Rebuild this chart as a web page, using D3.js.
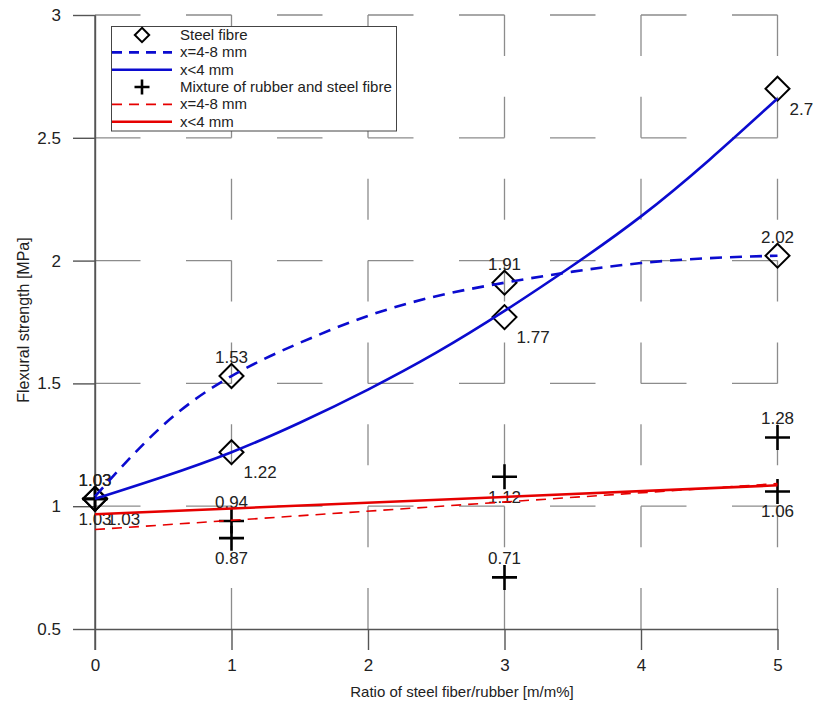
<!DOCTYPE html>
<html>
<head>
<meta charset="utf-8">
<script src="https://cdn.jsdelivr.net/npm/d3@7"></script>
<style>
  body { margin: 0; background: #fff; }
  text { font-family: "Liberation Sans", Arial, sans-serif; fill: #222; }
</style>
</head>
<body>
<div id="viz"></div>
<script>
// measured values
const ratio = [0, 1, 3, 5];
const steelCoarse = [1.03, 1.53, 1.91, 2.02];   // x=4-8 mm
const steelFine = [1.03, 1.22, 1.77, 2.7];       // x<4 mm
const mixCoarse = [1.03, 0.94, 0.71, 1.28];
const mixFine = [1.03, 0.87, 1.12, 1.06];

// trend curves
const fitX = [0, 0.5, 1, 1.5, 2, 2.5, 3, 3.5, 4, 4.5, 5];
const fitSteelCoarse = [1.04, 1.33, 1.53, 1.665, 1.775, 1.855, 1.91, 1.955, 1.99, 2.01, 2.02];
const fitSteelFine = [1.03, 1.12, 1.22, 1.34, 1.475, 1.625, 1.795, 1.98, 2.18, 2.41, 2.66];
const fitLineX = [0, 5];
const fitMixCoarse = [0.905, 1.092];
const fitMixFine = [0.967, 1.085];

const xTicks = [0, 1, 2, 3, 4, 5];
const yTicks = [0.5, 1, 1.5, 2, 2.5, 3];

const width = 817;
const height = 706;
const blue = "#0b0bcf";
const red = "#e60000";

const svg = d3.select("#viz")
  .append("svg")
  .attr("width", width)
  .attr("height", height);

const x = d3.scaleLinear().domain([0, 5]).range([95, 777.5]);
const y = d3.scaleLinear().domain([0.5, 3]).range([629, 15]);

// grid (dashed, pattern anchored at x=0 and at the top)
const hDash = (x(1) - x(0)) / 3;
const vDash = (y(0.5) - y(1)) / 3;
svg.append("g")
  .selectAll("line")
  .data(yTicks.slice(1))
  .enter()
  .append("line")
  .attr("x1", x(0)).attr("x2", x(5))
  .attr("y1", d => y(d)).attr("y2", d => y(d))
  .attr("stroke", "#8c8c8c")
  .attr("stroke-width", 1.3)
  .attr("stroke-dasharray", hDash + "," + hDash);
svg.append("g")
  .selectAll("line")
  .data(xTicks.slice(1))
  .enter()
  .append("line")
  .attr("x1", d => x(d)).attr("x2", d => x(d))
  .attr("y1", y(3)).attr("y2", y(0.5))
  .attr("stroke", "#8c8c8c")
  .attr("stroke-width", 1.3)
  .attr("stroke-dasharray", vDash + "," + vDash);

// axes
const yAxis = svg.append("g").attr("transform", `translate(${x(0)},0)`);
yAxis.call(d3.axisLeft(y).tickValues(d3.range(0.5, 3.01, 0.25)).tickSize(11).tickFormat("").tickSizeOuter(0));
yAxis.call(d3.axisLeft(y).tickValues(yTicks).tickSize(22).tickPadding(12).tickFormat(d3.format("")).tickSizeOuter(0));
const xAxis = svg.append("g").attr("transform", `translate(0,${y(0.5)})`);
xAxis.call(d3.axisBottom(x).tickValues(d3.range(0, 5.01, 0.5)).tickSize(11).tickFormat("").tickSizeOuter(0));
xAxis.call(d3.axisBottom(x).tickValues(xTicks).tickSize(21).tickPadding(9).tickFormat(d3.format("d")).tickSizeOuter(0));
svg.selectAll(".domain").attr("stroke", "#555").attr("stroke-width", 1.4);
svg.selectAll(".tick line").attr("stroke", "#555").attr("stroke-width", 1.4);
svg.selectAll(".tick text")
  .style("font-family", "'Liberation Sans', Arial, sans-serif")
  .style("font-size", "17px")
  .attr("fill", "#222");
// y axis line continues down to the x=0 tick
svg.append("line")
  .attr("x1", x(0)).attr("x2", x(0))
  .attr("y1", y(3)).attr("y2", y(0.5) + 21)
  .attr("stroke", "#555").attr("stroke-width", 1.4);

svg.append("text")
  .attr("x", 462).attr("y", 697)
  .attr("text-anchor", "middle")
  .style("font-size", "15px")
  .text("Ratio of steel fiber/rubber [m/m%]");
svg.append("text")
  .attr("transform", "translate(29,320) rotate(-90)")
  .attr("text-anchor", "middle")
  .style("font-size", "16px")
  .text("Flexural strength [MPa]");

// value labels
const series = [
  { values: steelCoarse, marker: "diamond", place: "above" },
  { values: steelFine, marker: "diamond", place: "belowRight" },
  { values: mixCoarse, marker: "cross", place: "above" },
  { values: mixFine, marker: "cross", place: "below" }
];
const labelPos = {
  above: { dx: 0, dy: -13, anchor: "middle" },
  below: { dx: 0, dy: 26, anchor: "middle" },
  belowRight: { dx: 12, dy: 26, anchor: "start" }
};

series.forEach(s => {
  const p = labelPos[s.place];
  svg.append("g")
    .selectAll("text")
    .data(s.values)
    .enter()
    .append("text")
    .attr("x", (d, i) => x(ratio[i]) + p.dx)
    .attr("y", d => y(d) + p.dy)
    .attr("text-anchor", p.anchor)
    .style("font-size", "17px")
    .text(d => d);
});

// markers
const diamond = "M0,-12L12,0L0,12L-12,0Z";
const cross = "M-12.5,0H12.5M0,-12.5V12.5";
series.forEach(s => {
  svg.append("g")
    .selectAll("path")
    .data(s.values)
    .enter()
    .append("path")
    .attr("transform", (d, i) => `translate(${x(ratio[i])},${y(d)})`)
    .attr("d", s.marker === "diamond" ? diamond : cross)
    .attr("fill", "none")
    .attr("stroke", "#000")
    .attr("stroke-width", s.marker === "diamond" ? 2 : 2.6);
});

// trend curves
const curve = d3.line()
  .x(d => x(d[0]))
  .y(d => y(d[1]))
  .curve(d3.curveNatural);
const fits = [
  { xs: fitLineX, ys: fitMixCoarse, color: red, w: 1.6, dash: "10,7" },
  { xs: fitLineX, ys: fitMixFine, color: red, w: 2.6, dash: null },
  { xs: fitX, ys: fitSteelCoarse, color: blue, w: 2.6, dash: "12,8" },
  { xs: fitX, ys: fitSteelFine, color: blue, w: 2.6, dash: null }
];
fits.forEach(f => {
  svg.append("path")
    .attr("d", curve(f.xs.map((v, i) => [v, f.ys[i]])))
    .attr("fill", "none")
    .attr("stroke", f.color)
    .attr("stroke-width", f.w)
    .attr("stroke-dasharray", f.dash);
});

// legend
const legendItems = [
  { label: "Steel fibre", kind: "diamond" },
  { label: "x=4-8 mm", kind: "line", color: blue, w: 2.6, dash: "10,7" },
  { label: "x<4 mm", kind: "line", color: blue, w: 2.6, dash: null },
  { label: "Mixture of rubber and steel fibre", kind: "cross" },
  { label: "x=4-8 mm", kind: "line", color: red, w: 1.6, dash: "10,7" },
  { label: "x<4 mm", kind: "line", color: red, w: 2.6, dash: null }
];
const legend = svg.append("g");
legend.append("rect")
  .attr("x", 111.5).attr("y", 26.5)
  .attr("width", 285).attr("height", 104.5)
  .attr("fill", "#fff")
  .attr("stroke", "#444")
  .attr("stroke-width", 1);
const row = legend.selectAll("g.row")
  .data(legendItems)
  .enter()
  .append("g")
  .attr("class", "row")
  .attr("transform", (d, i) => `translate(0,${35 + i * 17.35})`);
row.filter(d => d.kind === "line")
  .append("line")
  .attr("x1", 112).attr("x2", 172)
  .attr("stroke", d => d.color)
  .attr("stroke-width", d => d.w)
  .attr("stroke-dasharray", d => d.dash);
row.filter(d => d.kind === "diamond")
  .append("path")
  .attr("transform", "translate(142,0) scale(0.6)")
  .attr("d", diamond)
  .attr("fill", "none")
  .attr("stroke", "#000")
  .attr("stroke-width", 3.3);
row.filter(d => d.kind === "cross")
  .append("path")
  .attr("transform", "translate(142,0) scale(0.6)")
  .attr("d", cross)
  .attr("fill", "none")
  .attr("stroke", "#000")
  .attr("stroke-width", 4.3);
row.append("text")
  .attr("x", 180)
  .attr("y", 5)
  .style("font-size", "15px")
  .text(d => d.label);
</script>
</body>
</html>
